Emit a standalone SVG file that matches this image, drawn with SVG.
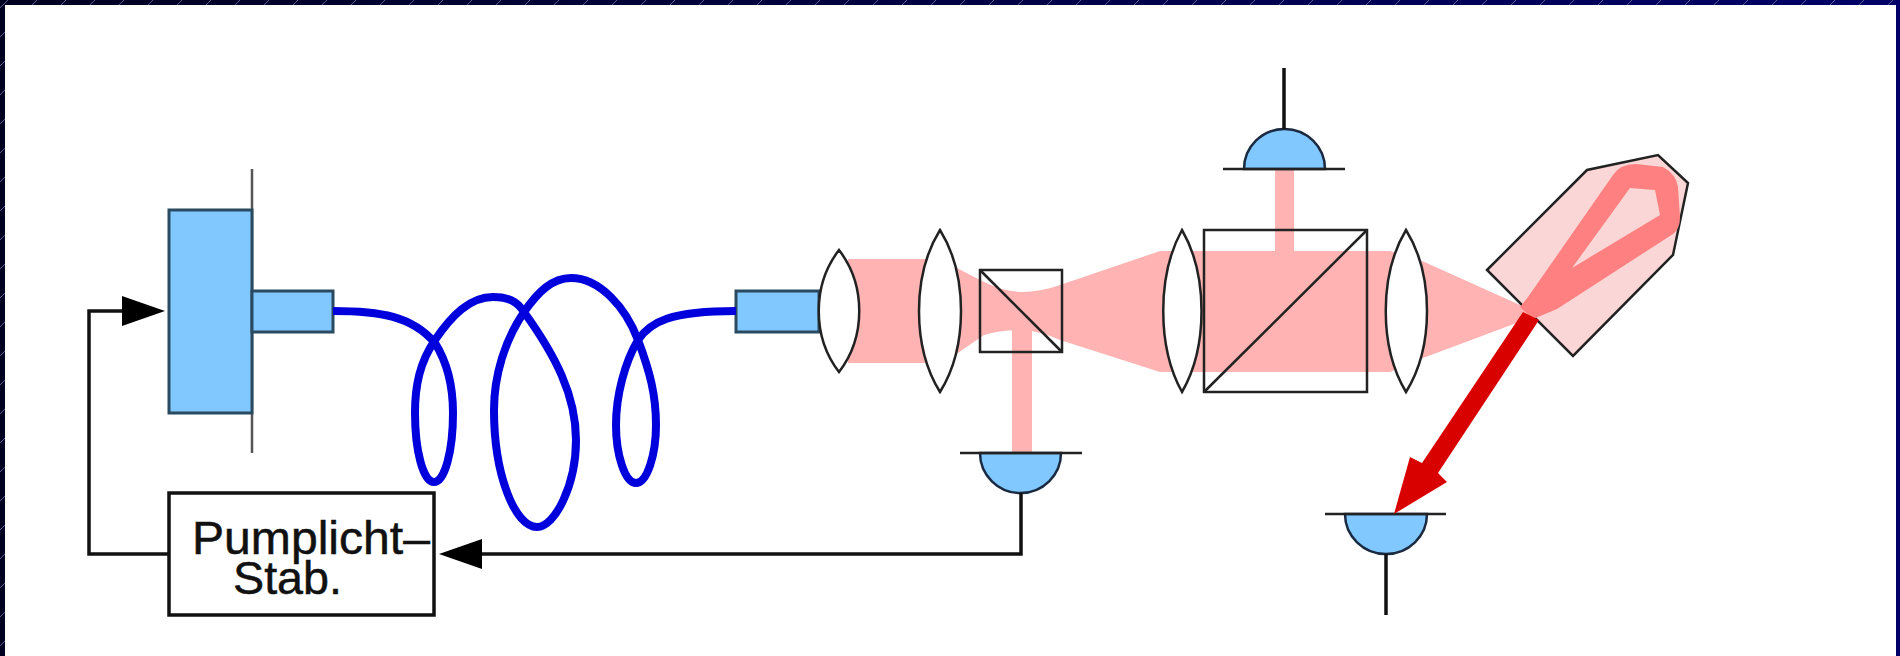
<svg xmlns="http://www.w3.org/2000/svg" width="1900" height="656" viewBox="0 0 1900 656">
<style>
.ln{fill:none;stroke:#111;stroke-width:3.5}
.th{fill:none;stroke:#222;stroke-width:2.5}
.blue{fill:#80c8ff;stroke:#2a4a60;stroke-width:3}
.det{fill:#80c8ff;stroke:#1a2a40;stroke-width:2.5}
.lens{fill:#fff;stroke:#222;stroke-width:2.5}
.beam{fill:#ffb3b3;stroke:none}
.lbl{font-family:"Liberation Sans",Arial,sans-serif;font-size:46px;fill:#111;stroke:#111;stroke-width:.5}
.fib{fill:none;stroke:#0000dd;stroke-width:8}
</style>
<defs>
<linearGradient id="bg" x1="0" x2="1" y1="0" y2="0"><stop offset="0" stop-color="#000020"/><stop offset="1" stop-color="#000068"/></linearGradient>
<pattern id="ticks" width="29" height="29" patternUnits="userSpaceOnUse"><path d="M0 8L8 0" stroke="#5a5a90" stroke-width="1" fill="none"/></pattern>
</defs>
<rect id="backdrop" width="1900" height="656" fill="url(#bg)"/>
<rect width="1900" height="656" fill="url(#ticks)"/>
<rect id="panel" x="5" y="5" width="1891" height="651" fill="#fff"/>
<g id="beams">
<path class="beam" d="M848 259H925L955 267L984 282Q1005 292 1022 292Q1040 292 1060 285L1160 251H1390L1420 260L1520 305L1533 317L1423 358L1390 372H1160L1060 340Q1040 331 1022 330Q1000 330 984 335L955 355L925 363H848Z"/>
<rect class="beam" x="1012" y="330" width="20" height="123"/>
<rect class="beam" x="1275" y="170" width="19" height="81"/>
</g>
<g id="pump-laser"><path fill="none" stroke="#555" stroke-width="2.5" d="M252 169V453"/><rect class="blue" x="169" y="210" width="83" height="203"/><rect class="blue" x="252" y="291" width="81" height="41"/></g>
<g id="fibre-coupler"><rect class="blue" x="736" y="291" width="83" height="41"/></g>
<g id="fibre"><path class="fib" d="M333 311C380 311 412 316 435 343C447 362 453 385 453 413C453 450 445 482 434 482C423 482 415 450 415 413C415 385 420 362 435 340C452 315 470 297 493 297C508 297 517 301 524 312C555 355 576 395 576 440C576 485 555 527 537 527C515 527 494 475 494 410C494 375 505 340 524 312C538 292 552 278 571 278C600 278 626 308 638 340C650 372 656 395 656 425C656 455 647 483 636 483C625 483 616 455 616 425C616 395 625 362 638 340C650 322 670 311 736 311"/></g>
<g id="lens-1"><path class="lens" d="M839 250C812 285 812 337 839 372C866 337 866 285 839 250Z"/></g>
<g id="lens-2"><path class="lens" d="M940 230C912 275 912 347 940 392C968 347 968 275 940 230Z"/></g>
<g id="lens-3"><path class="lens" d="M1182 230C1157 275 1157 347 1182 392C1208 347 1208 275 1182 230Z"/></g>
<g id="lens-4"><path class="lens" d="M1406 230C1379 275 1379 347 1406 392C1434 347 1434 275 1406 230Z"/></g>
<g id="cube-small"><rect class="th" x="980" y="270" width="82" height="82"/><path class="th" d="M980 270L1062 352"/></g>
<g id="cube-large"><rect class="th" x="1204" y="230" width="163" height="162"/><path class="th" d="M1204 392L1367 230"/></g>
<g id="detector-top"><path class="det" d="M1244 169A40.500 40 0 0 1 1325 169Z"/><path class="th" d="M1223 169H1345"/><path class="ln" d="M1284 68V129"/></g>
<g id="detector-middle"><path class="det" d="M980 453A40.500 40 0 0 0 1061 453Z"/><path class="th" d="M960 453H1082"/></g>
<g id="detector-bottom"><path class="det" d="M1345 514A41 40 0 0 0 1427 514Z"/><path class="th" d="M1325 514H1446"/><path class="ln" d="M1386 554V615"/></g>
<g id="crystal"><path fill="#fbd6d6" stroke="#222" stroke-width="2.5" d="M1487 270L1587 170L1658 155L1688 183L1673 255L1573 356Z"/>
<path fill="#ff8080" fill-rule="evenodd" d="M1528 297L1613 175Q1620 164 1636 164L1663 167Q1676 174 1678 187L1680 217Q1680 229 1673 234L1557 309L1533 319L1520 307ZM1572 268L1660 215L1655 190L1630 188Z"/></g>
<g id="pump-box"><rect x="169" y="493" width="265" height="122" fill="#fff" stroke="#111" stroke-width="3.500"/>
<text class="lbl" x="192" y="554" textLength="238" lengthAdjust="spacingAndGlyphs">Pumplicht–</text>
<text class="lbl" x="233" y="594" textLength="109" lengthAdjust="spacingAndGlyphs">Stab.</text></g>
<g id="connectors">
<path class="ln" d="M169 554H89V311H125"/><path fill="#000" d="M122 296L165 311L122 326Z"/>
<path class="ln" d="M1021 493V554H480"/><path fill="#000" d="M482 539L439 554L482 569Z"/>
<path fill="#d90000" d="M1523 312L1539 320L1438 473L1447 482L1394 514L1410 457L1422 463Z"/>
</g>
</svg>
